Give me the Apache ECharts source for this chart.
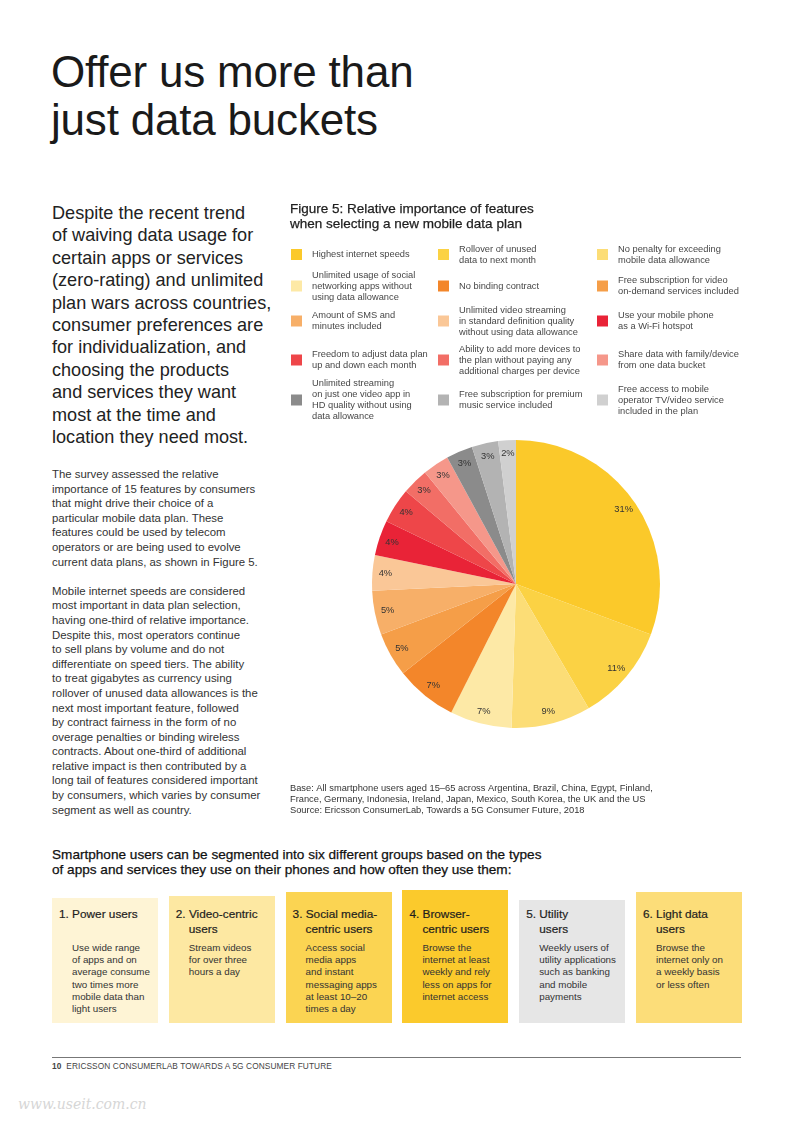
<!DOCTYPE html>
<html>
<head>
<meta charset="utf-8">
<script src="https://cdn.jsdelivr.net/npm/echarts@6/dist/echarts.min.js"></script>
<style>
  html, body { margin:0; padding:0; background:#fff; }
  body { width:794px; height:1123px; position:relative; overflow:hidden; font-family:"Liberation Sans", Arial, sans-serif; color:#222; }
  .abs { position:absolute; white-space:nowrap; }
  #title { left:51px; top:48px; font-size:44px; line-height:48px; color:#1a1a1a; letter-spacing:-0.2px; }
  #lead { left:52px; top:202px; font-size:18.1px; line-height:22.4px; color:#222; }
  #body { left:52px; top:467px; font-size:11.4px; line-height:14.6px; color:#333; }
  #heading { left:52px; top:846.5px; font-size:13.6px; line-height:15.5px; color:#111; -webkit-text-stroke:0.25px #111; }
  .box { position:absolute; width:106px; }
  .btitle { position:absolute; left:7px; font-size:11.8px; line-height:15px; color:#1e1e1e; -webkit-text-stroke:0.2px #1e1e1e; white-space:nowrap; }
  .btitle span { display:block; }
  .btitle span + span { padding-left:13px; }
  .bdesc { position:absolute; left:20px; font-size:9.8px; line-height:12.3px; color:#333; white-space:nowrap; }
  #rule { left:52px; top:1056.5px; width:689px; height:0; border-top:0.8px solid #777; }
  #footer { left:52px; top:1061px; font-size:8.3px; line-height:10px; color:#444; letter-spacing:0.1px; }
  #wm { left:18px; top:1095px; font-size:14px; line-height:18px; color:#d6d6d6; font-family:"DejaVu Serif", serif; font-style:italic; }
  #chart { position:absolute; left:285px; top:195px; width:460px; height:630px; }
</style>
</head>
<body>
<div id="title" class="abs">Offer us more than<br>just data buckets</div>
<div id="lead" class="abs">Despite the recent trend<br>of waiving data usage for<br>certain apps or services<br>(zero-rating) and unlimited<br>plan wars across countries,<br>consumer preferences are<br>for individualization, and<br>choosing the products<br>and services they want<br>most at the time and<br>location they need most.</div>
<div id="body" class="abs">The survey assessed the relative<br>importance of 15 features by consumers<br>that might drive their choice of a<br>particular mobile data plan. These<br>features could be used by telecom<br>operators or are being used to evolve<br>current data plans, as shown in Figure 5.<br><br>Mobile internet speeds are considered<br>most important in data plan selection,<br>having one-third of relative importance.<br>Despite this, most operators continue<br>to sell plans by volume and do not<br>differentiate on speed tiers. The ability<br>to treat gigabytes as currency using<br>rollover of unused data allowances is the<br>next most important feature, followed<br>by contract fairness in the form of no<br>overage penalties or binding wireless<br>contracts. About one-third of additional<br>relative impact is then contributed by a<br>long tail of features considered important<br>by consumers, which varies by consumer<br>segment as well as country.</div>
<div id="chart"></div>
<div id="heading" class="abs">Smartphone users can be segmented into six different groups based on the types<br>of apps and services they use on their phones and how often they use them:</div>
<div id="boxes"></div>
<div id="rule" class="abs"></div>
<div id="footer" class="abs"><b>10</b>&nbsp; ERICSSON CONSUMERLAB TOWARDS A 5G CONSUMER FUTURE</div>
<div id="wm" class="abs">www.useit.com.cn</div>
<script>
// ---- Data ----
var features = [
  "Highest internet speeds",
  "Rollover of unused\ndata to next month",
  "No penalty for exceeding\nmobile data allowance",
  "Unlimited usage of social\nnetworking apps without\nusing data allowance",
  "No binding contract",
  "Free subscription for video\non-demand services included",
  "Amount of SMS and\nminutes included",
  "Unlimited video streaming\nin standard definition quality\nwithout using data allowance",
  "Use your mobile phone\nas a Wi-Fi hotspot",
  "Freedom to adjust data plan\nup and down each month",
  "Ability to add more devices to\nthe plan without paying any\nadditional charges per device",
  "Share data with family/device\nfrom one data bucket",
  "Unlimited streaming\non just one video app in\nHD quality without using\ndata allowance",
  "Free subscription for premium\nmusic service included",
  "Free access to mobile\noperator TV/video service\nincluded in the plan"
];
var shares = [31, 11, 9, 7, 7, 5, 5, 4, 4, 4, 3, 3, 3, 3, 2];
var palette = ["#FBC92A","#FBD244","#FCDD76","#FDE9A6","#F3862A","#F59E48","#F7AF68","#FAC797",
               "#E92337","#EE4649","#F26E66","#F5978A","#8B8B8B","#B3B3B3","#D0D0D0"];

var segmentTitles = [
  ["1. Power users"],
  ["2. Video-centric","users"],
  ["3. Social media-","centric users"],
  ["4. Browser-","centric users"],
  ["5. Utility","users"],
  ["6. Light data","users"]
];
var segmentDescriptions = [
  ["Use wide range","of apps and on","average consume","two times more","mobile data than","light users"],
  ["Stream videos","for over three","hours a day"],
  ["Access social","media apps","and instant","messaging apps","at least 10\u201320","times a day"],
  ["Browse the","internet at least","weekly and rely","less on apps for","internet access"],
  ["Weekly users of","utility applications","such as banking","and mobile","payments"],
  ["Browse the","internet only on","a weekly basis","or less often"]
];
var figureTitle = "Figure 5: Relative importance of features\nwhen selecting a new mobile data plan";
var baseText = "Base: All smartphone users aged 15\u201365 across Argentina, Brazil, China, Egypt, Finland,\nFrance, Germany, Indonesia, Ireland, Japan, Mexico, South Korea, the UK and the US\nSource: Ericsson ConsumerLab, Towards a 5G Consumer Future, 2018";

// ---- Segment boxes (layout) ----
var boxColors = ["#FEF4D5","#FDE8A2","#FBD452","#FBCA2C","#E6E6E6","#FCDD79"];
var boxTops = [898, 896, 892, 890, 900, 892];
var boxesEl = document.getElementById('boxes');
segmentTitles.forEach(function (t, i) {
  var left = 52 + i * 116.8;
  var top = boxTops[i];
  var b = document.createElement('div');
  b.className = 'box';
  b.style.left = left + 'px';
  b.style.top = top + 'px';
  b.style.height = (1023 - top) + 'px';
  b.style.background = boxColors[i];
  var ti = document.createElement('div');
  ti.className = 'btitle';
  ti.style.top = (906.5 - top) + 'px';
  ti.innerHTML = t.map(function (s) { return '<span>' + s + '</span>'; }).join('');
  b.appendChild(ti);
  var d = document.createElement('div');
  d.className = 'bdesc';
  d.style.top = (941.8 - top) + 'px';
  d.innerHTML = segmentDescriptions[i].join('<br>');
  b.appendChild(d);
  boxesEl.appendChild(b);
});

// ---- Chart ----
var chart = echarts.init(document.getElementById('chart'), null, { renderer: 'canvas' });
var colX = [6, 153, 312];
var rowY = [59.5, 91, 126, 165, 205];
var legendLH = 11;
var legends = features.map(function (name, i) {
  var lines = name.split('\n').length;
  return {
    orient: 'vertical',
    left: colX[i % 3],
    top: rowY[Math.floor(i / 3)] - lines * legendLH / 2,
    padding: 0,
    itemWidth: 11,
    itemHeight: 11,
    icon: 'rect',
    selectedMode: false,
    data: [{ name: name, itemStyle: { color: palette[i] } }],
    textStyle: { fontFamily: 'Liberation Sans', fontSize: 9.3, lineHeight: legendLH, color: '#474747', padding: [0, 0, 0, 5] }
  };
});
var pieData = features.map(function (name, i) {
  return { name: name, value: shares[i], itemStyle: { color: palette[i] } };
});
var labelData = features.map(function (name, i) {
  return { name: name, value: shares[i] };
});
chart.setOption({
  animation: false,
  title: {
    text: figureTitle,
    left: 5, top: 7, padding: 0,
    textStyle: { fontFamily: 'Liberation Sans', fontSize: 13.5, lineHeight: 15, fontWeight: 'normal', color: '#1e1e1e', textBorderColor: '#1e1e1e', textBorderWidth: 0.25 }
  },
  legend: legends,
  graphic: [{
    type: 'text', left: 5, top: 588,
    style: { text: baseText, fontFamily: 'Liberation Sans', fontSize: 9.3, lineHeight: 10.8, fill: '#333' }
  }],
  series: [{
    type: 'pie',
    center: [231, 389],
    radius: [0, 144],
    startAngle: 90,
    clockwise: true,
    silent: true,
    label: { show: false },
    labelLine: { show: false },
    itemStyle: { borderWidth: 0 },
    data: pieData
  }, {
    type: 'pie',
    center: [231, 389],
    radius: [112, 144],
    startAngle: 90,
    clockwise: true,
    silent: true,
    itemStyle: { color: 'rgba(0,0,0,0)', borderWidth: 0 },
    label: { show: true, position: 'inside', formatter: '{c}%', fontFamily: 'Liberation Sans', fontSize: 9.3, color: '#333' },
    labelLine: { show: false },
    data: labelData
  }]
});
</script>
</body>
</html>
